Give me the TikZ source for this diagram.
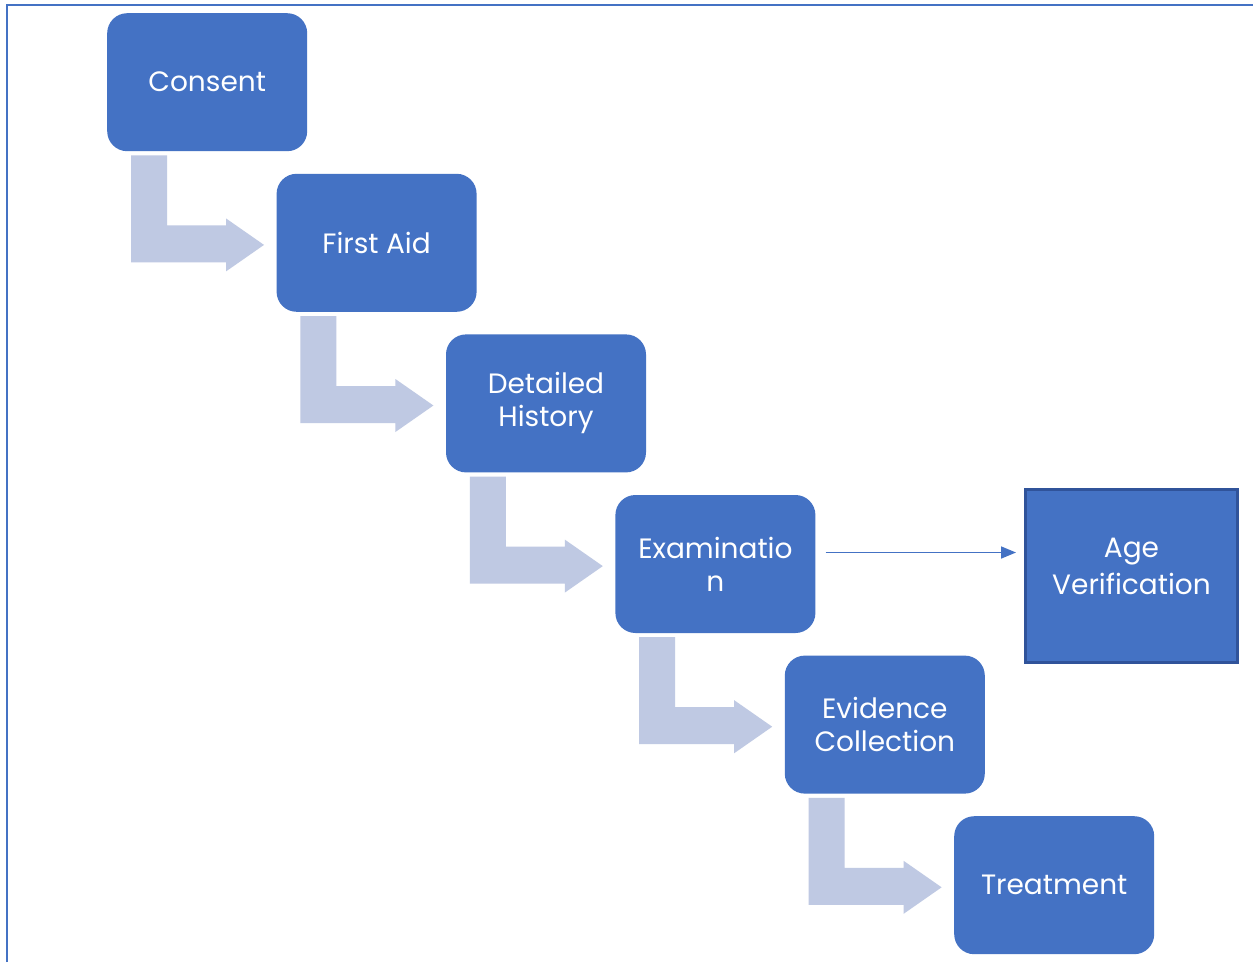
\documentclass[tikz,border=0pt]{standalone}
\usepackage{fontspec}
\setmainfont{Poppins}
\usetikzlibrary{arrows.meta}

\definecolor{boxblue}{HTML}{4472C4}
\definecolor{paleblue}{HTML}{BFC9E3}
\definecolor{edgeblue}{HTML}{30539A}

\tikzset{
  stepbox/.style={fill=boxblue, draw=none, rounded corners=20pt,
    minimum width=200pt, minimum height=138pt, inner sep=0pt,
    anchor=north west, align=center, text=white,
    font=\fontsize{28}{33}\selectfont},
  sidebox/.style={fill=boxblue, draw=edgeblue, line width=3pt,
    minimum width=212pt, minimum height=173pt, inner sep=0pt,
    anchor=north west, align=center, text=white, text depth=20pt,
    font=\fontsize{28}{37}\selectfont},
  frame/.style={draw=boxblue, line width=2pt},
  conn/.style={draw=boxblue, line width=1.6pt,
    -{Triangle[length=15pt,width=12pt]}},
  bentarrow/.pic={
    \fill[paleblue] (24,4) -- (60,4) -- (60,74) -- (119,74) -- (119,67)
      -- (157,93.5) -- (119,120) -- (119,111) -- (24,111) -- cycle;
  }
}

\begin{document}
\begin{tikzpicture}[x=1pt, y=-1pt]
  \useasboundingbox (0,0) rectangle (1253,962);
  \fill[white] (0,0) rectangle (1253,962);
  \draw[frame] (7,962) -- (7,4.5) -- (1253,4.5);

  % the six stages, stepping down to the right
  \node[stepbox] (consent)  at (107,13)    {Consent};
  \node[stepbox] (firstaid) at (276.4,173.6) {First Aid};
  \node[stepbox] (history)  at (445.8,334.2) {Detailed\\History};
  \node[stepbox] (exam)     at (615.2,494.8) {Examinatio\\n};
  \node[stepbox] (evidence) at (784.6,655.4) {Evidence\\Collection};
  \node[stepbox] (treat)    at (954,816)   {Treatment};

  % side branch
  \node[sidebox] (age) at (1024,488) {Age\\Verification};

  % bent arrows linking each stage to the next
  \foreach \n in {consent,firstaid,history,exam,evidence}
    \pic at (\n.south west) {bentarrow};

  % link from the examination stage to age verification
  \coordinate (s) at ([shift={(10,-11.5)}]exam.east);
  \draw[conn] (s) -- ([xshift=-8pt]s -| age.west);
\end{tikzpicture}
\end{document}
